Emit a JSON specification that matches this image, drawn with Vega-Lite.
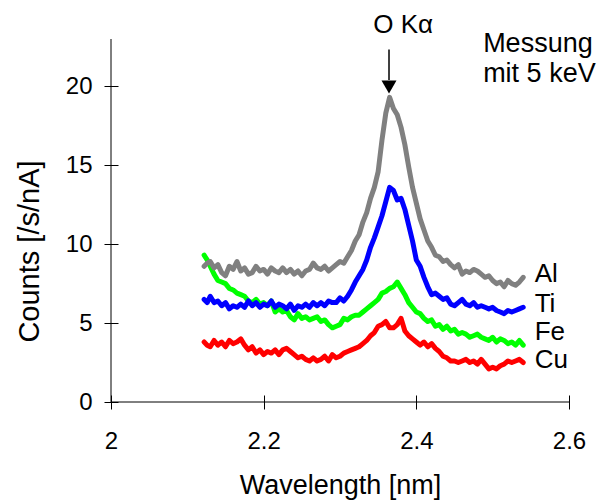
{
  "$schema": "https://vega.github.io/schema/vega-lite/v6.json",
  "width": 458,
  "height": 363,
  "autosize": {"type": "none"},
  "padding": {"left": 111, "top": 39, "right": 38, "bottom": 102},
  "background": "white",
  "config": {
    "view": {"stroke": null},
    "font": "Liberation Sans",
    "axis": {
      "grid": false,
      "domain": false,
      "tickColor": "black",
      "tickWidth": 1,
      "labelColor": "black",
      "titleColor": "black",
      "labelFont": "Liberation Sans",
      "titleFont": "Liberation Sans",
      "titleFontWeight": "normal"
    }
  },
  "datasets": {
    "spec": [
      {"w": 2.122, "Al": 8.6, "Ti": 6.5, "Fe": 9.3, "Cu": 3.8},
      {"w": 2.126, "Al": 8.8, "Ti": 6.3, "Fe": 9.0, "Cu": 3.6},
      {"w": 2.130, "Al": 8.9, "Ti": 6.7, "Fe": 8.6, "Cu": 3.5},
      {"w": 2.135, "Al": 8.5, "Ti": 6.3, "Fe": 8.1, "Cu": 3.9},
      {"w": 2.140, "Al": 8.7, "Ti": 6.4, "Fe": 7.7, "Cu": 3.6},
      {"w": 2.145, "Al": 8.2, "Ti": 6.1, "Fe": 7.6, "Cu": 3.8},
      {"w": 2.150, "Al": 8.0, "Ti": 6.3, "Fe": 7.5, "Cu": 3.5},
      {"w": 2.155, "Al": 8.6, "Ti": 5.9, "Fe": 7.2, "Cu": 3.9},
      {"w": 2.160, "Al": 8.4, "Ti": 6.1, "Fe": 7.1, "Cu": 3.7},
      {"w": 2.165, "Al": 8.9, "Ti": 6.0, "Fe": 6.9, "Cu": 3.8},
      {"w": 2.170, "Al": 8.3, "Ti": 6.2, "Fe": 6.8, "Cu": 4.0},
      {"w": 2.175, "Al": 8.5, "Ti": 6.0, "Fe": 6.7, "Cu": 3.6},
      {"w": 2.180, "Al": 8.1, "Ti": 6.4, "Fe": 6.4, "Cu": 3.3},
      {"w": 2.185, "Al": 8.2, "Ti": 6.1, "Fe": 6.3, "Cu": 3.5},
      {"w": 2.190, "Al": 8.6, "Ti": 6.3, "Fe": 6.5, "Cu": 3.1},
      {"w": 2.195, "Al": 8.3, "Ti": 6.0, "Fe": 6.2, "Cu": 3.3},
      {"w": 2.200, "Al": 8.4, "Ti": 6.2, "Fe": 6.3, "Cu": 3.0},
      {"w": 2.205, "Al": 8.1, "Ti": 6.1, "Fe": 6.1, "Cu": 3.2},
      {"w": 2.210, "Al": 8.5, "Ti": 6.4, "Fe": 6.4, "Cu": 3.1},
      {"w": 2.215, "Al": 8.3, "Ti": 6.0, "Fe": 5.7, "Cu": 3.3},
      {"w": 2.220, "Al": 8.2, "Ti": 6.2, "Fe": 5.9, "Cu": 3.0},
      {"w": 2.225, "Al": 8.5, "Ti": 6.1, "Fe": 5.7, "Cu": 3.3},
      {"w": 2.230, "Al": 8.2, "Ti": 5.9, "Fe": 5.8, "Cu": 3.4},
      {"w": 2.235, "Al": 8.4, "Ti": 6.2, "Fe": 5.4, "Cu": 3.2},
      {"w": 2.240, "Al": 8.1, "Ti": 5.8, "Fe": 5.2, "Cu": 3.0},
      {"w": 2.245, "Al": 8.3, "Ti": 6.1, "Fe": 5.6, "Cu": 2.8},
      {"w": 2.250, "Al": 8.0, "Ti": 6.0, "Fe": 5.3, "Cu": 2.9},
      {"w": 2.255, "Al": 8.3, "Ti": 6.2, "Fe": 5.4, "Cu": 2.7},
      {"w": 2.260, "Al": 8.4, "Ti": 6.0, "Fe": 5.2, "Cu": 2.6},
      {"w": 2.265, "Al": 8.8, "Ti": 6.3, "Fe": 5.3, "Cu": 2.8},
      {"w": 2.270, "Al": 8.5, "Ti": 6.1, "Fe": 5.4, "Cu": 2.6},
      {"w": 2.275, "Al": 8.4, "Ti": 6.3, "Fe": 5.1, "Cu": 2.7},
      {"w": 2.280, "Al": 8.6, "Ti": 6.1, "Fe": 5.2, "Cu": 2.9},
      {"w": 2.285, "Al": 8.3, "Ti": 6.4, "Fe": 4.9, "Cu": 2.6},
      {"w": 2.290, "Al": 8.5, "Ti": 6.3, "Fe": 4.7, "Cu": 3.0},
      {"w": 2.295, "Al": 8.7, "Ti": 6.3, "Fe": 4.8, "Cu": 2.8},
      {"w": 2.300, "Al": 8.9, "Ti": 6.6, "Fe": 4.9, "Cu": 2.9},
      {"w": 2.305, "Al": 8.8, "Ti": 6.4, "Fe": 5.3, "Cu": 3.1},
      {"w": 2.310, "Al": 9.2, "Ti": 6.7, "Fe": 5.2, "Cu": 3.2},
      {"w": 2.315, "Al": 9.6, "Ti": 7.1, "Fe": 5.4, "Cu": 3.3},
      {"w": 2.320, "Al": 10.2, "Ti": 7.6, "Fe": 5.5, "Cu": 3.4},
      {"w": 2.325, "Al": 10.6, "Ti": 8.0, "Fe": 5.5, "Cu": 3.5},
      {"w": 2.330, "Al": 11.4, "Ti": 8.4, "Fe": 5.7, "Cu": 3.7},
      {"w": 2.335, "Al": 12.0, "Ti": 9.0, "Fe": 5.9, "Cu": 3.9},
      {"w": 2.340, "Al": 12.9, "Ti": 9.8, "Fe": 6.1, "Cu": 4.2},
      {"w": 2.345, "Al": 13.6, "Ti": 10.4, "Fe": 6.3, "Cu": 4.4},
      {"w": 2.350, "Al": 14.6, "Ti": 11.1, "Fe": 6.5, "Cu": 4.8},
      {"w": 2.355, "Al": 16.6, "Ti": 11.8, "Fe": 6.9, "Cu": 4.9},
      {"w": 2.360, "Al": 18.3, "Ti": 12.7, "Fe": 7.0, "Cu": 5.1},
      {"w": 2.365, "Al": 19.3, "Ti": 13.6, "Fe": 7.2, "Cu": 4.7},
      {"w": 2.370, "Al": 18.6, "Ti": 13.4, "Fe": 7.3, "Cu": 4.7},
      {"w": 2.375, "Al": 18.2, "Ti": 12.8, "Fe": 7.6, "Cu": 4.9},
      {"w": 2.380, "Al": 17.4, "Ti": 12.9, "Fe": 7.2, "Cu": 5.3},
      {"w": 2.385, "Al": 16.3, "Ti": 12.2, "Fe": 6.8, "Cu": 4.5},
      {"w": 2.390, "Al": 14.9, "Ti": 11.2, "Fe": 6.3, "Cu": 4.2},
      {"w": 2.395, "Al": 13.6, "Ti": 10.2, "Fe": 6.0, "Cu": 4.0},
      {"w": 2.400, "Al": 12.6, "Ti": 9.0, "Fe": 5.7, "Cu": 3.8},
      {"w": 2.405, "Al": 11.6, "Ti": 8.6, "Fe": 5.6, "Cu": 3.6},
      {"w": 2.410, "Al": 10.9, "Ti": 7.9, "Fe": 5.3, "Cu": 3.8},
      {"w": 2.415, "Al": 10.2, "Ti": 7.3, "Fe": 5.1, "Cu": 3.5},
      {"w": 2.420, "Al": 9.8, "Ti": 6.8, "Fe": 5.2, "Cu": 3.7},
      {"w": 2.425, "Al": 9.3, "Ti": 6.9, "Fe": 4.8, "Cu": 3.4},
      {"w": 2.430, "Al": 9.2, "Ti": 6.7, "Fe": 4.9, "Cu": 3.2},
      {"w": 2.435, "Al": 8.9, "Ti": 6.5, "Fe": 4.6, "Cu": 2.9},
      {"w": 2.440, "Al": 9.0, "Ti": 6.6, "Fe": 4.8, "Cu": 2.8},
      {"w": 2.445, "Al": 8.7, "Ti": 6.2, "Fe": 4.5, "Cu": 2.6},
      {"w": 2.450, "Al": 8.5, "Ti": 6.1, "Fe": 4.6, "Cu": 2.6},
      {"w": 2.455, "Al": 8.7, "Ti": 6.3, "Fe": 4.3, "Cu": 2.5},
      {"w": 2.460, "Al": 8.1, "Ti": 6.5, "Fe": 4.4, "Cu": 2.6},
      {"w": 2.465, "Al": 8.3, "Ti": 6.2, "Fe": 4.3, "Cu": 2.7},
      {"w": 2.470, "Al": 8.2, "Ti": 6.1, "Fe": 4.1, "Cu": 2.5},
      {"w": 2.475, "Al": 8.4, "Ti": 6.3, "Fe": 4.2, "Cu": 2.6},
      {"w": 2.480, "Al": 8.3, "Ti": 6.0, "Fe": 4.3, "Cu": 2.4},
      {"w": 2.485, "Al": 8.1, "Ti": 6.1, "Fe": 4.1, "Cu": 2.7},
      {"w": 2.490, "Al": 7.9, "Ti": 6.0, "Fe": 4.0, "Cu": 2.4},
      {"w": 2.495, "Al": 8.0, "Ti": 5.9, "Fe": 3.9, "Cu": 2.1},
      {"w": 2.500, "Al": 7.7, "Ti": 6.0, "Fe": 4.1, "Cu": 2.2},
      {"w": 2.505, "Al": 7.5, "Ti": 5.8, "Fe": 3.8, "Cu": 2.1},
      {"w": 2.510, "Al": 7.6, "Ti": 5.7, "Fe": 4.0, "Cu": 2.3},
      {"w": 2.515, "Al": 7.3, "Ti": 5.6, "Fe": 3.9, "Cu": 2.4},
      {"w": 2.520, "Al": 7.7, "Ti": 5.8, "Fe": 3.7, "Cu": 2.6},
      {"w": 2.525, "Al": 7.5, "Ti": 5.7, "Fe": 3.8, "Cu": 2.5},
      {"w": 2.530, "Al": 7.4, "Ti": 5.8, "Fe": 3.6, "Cu": 2.6},
      {"w": 2.535, "Al": 7.6, "Ti": 5.9, "Fe": 3.9, "Cu": 2.7},
      {"w": 2.540, "Al": 7.9, "Ti": 6.0, "Fe": 3.6, "Cu": 2.5}
    ],
    "labels": [
      {"t": "Al", "x": 2.555, "y": 7.62},
      {"t": "Ti", "x": 2.555, "y": 5.72},
      {"t": "Fe", "x": 2.555, "y": 3.9},
      {"t": "Cu", "x": 2.555, "y": 2.17}
    ],
    "arrow": [
      {"x": 2.3642, "y1": 22.33, "y2": 20.4, "tip": 19.96, "t": "O Kα", "tx": 2.3436, "ty": 23.4}
    ],
    "note": [
      {"t": "Messung\nmit 5 keV", "x": 2.4875, "y": 22.2}
    ],
    "frame": [
      {"x0": 2, "x1": 2.6, "y0": 0, "y1": 23}
    ]
  },
  "layer": [
    {
      "data": {"name": "spec"},
      "transform": [{"fold": ["Fe", "Al", "Ti", "Cu"], "as": ["series", "value"]}],
      "mark": {"type": "line", "strokeWidth": 5, "strokeJoin": "round", "strokeCap": "round", "clip": false},
      "encoding": {
        "x": {
          "field": "w", "type": "quantitative",
          "scale": {"domain": [2, 2.6], "nice": false, "zero": false},
          "axis": {
            "orient": "bottom",
            "offset": -7,
            "values": [2, 2.2, 2.4, 2.6],
            "format": "~g",
            "tickSize": 14,
            "labelFontSize": 24,
            "labelBaseline": "alphabetic",
            "labelPadding": 39,
            "labelFlush": false,
            "labelOverlap": false,
            "title": "Wavelength [nm]",
            "titleFontSize": 27,
            "titleX": 229,
            "titleY": 98,
            "titleAlign": "center",
            "titleBaseline": "alphabetic"
          }
        },
        "y": {
          "field": "value", "type": "quantitative",
          "scale": {"domain": [0, 23], "nice": false, "zero": true},
          "axis": {
            "orient": "left",
            "offset": -7,
            "values": [0, 5, 10, 15, 20],
            "tickSize": 14,
            "labelFontSize": 24,
            "labelBaseline": "middle",
            "labelPadding": 12,
            "labelFlush": false,
            "labelOverlap": false,
            "title": "Counts [/s/nA]",
            "titleFontSize": 29,
            "titleAngle": -90,
            "titleX": -80,
            "titleY": 212,
            "titleAlign": "center",
            "titleBaseline": "alphabetic"
          }
        },
        "color": {
          "field": "series", "type": "nominal",
          "scale": {"domain": ["Al", "Ti", "Fe", "Cu"], "range": ["#808080", "#0000ff", "#00ff00", "#ff0000"]},
          "legend": null
        },
        "detail": {"field": "series"}
      }
    },
    {
      "data": {"name": "frame"},
      "mark": {"type": "rule", "color": "black", "strokeWidth": 1},
      "encoding": {
        "x": {"field": "x0", "type": "quantitative"},
        "x2": {"field": "x1"},
        "y": {"field": "y0", "type": "quantitative"}
      }
    },
    {
      "data": {"name": "frame"},
      "mark": {"type": "rule", "color": "black", "strokeWidth": 1},
      "encoding": {
        "x": {"field": "x0", "type": "quantitative"},
        "y": {"field": "y0", "type": "quantitative"},
        "y2": {"field": "y1"}
      }
    },
    {
      "data": {"name": "arrow"},
      "mark": {"type": "rule", "color": "black", "strokeWidth": 1.5},
      "encoding": {
        "x": {"field": "x", "type": "quantitative"},
        "y": {"field": "y1", "type": "quantitative"},
        "y2": {"field": "y2"}
      }
    },
    {
      "data": {"name": "arrow"},
      "mark": {"type": "point", "shape": "triangle-down", "filled": true, "color": "black", "size": 225, "opacity": 1, "clip": false},
      "encoding": {
        "x": {"field": "x", "type": "quantitative"},
        "y": {"field": "tip", "type": "quantitative"}
      }
    },
    {
      "data": {"name": "arrow"},
      "mark": {"type": "text", "fontSize": 26, "align": "left", "baseline": "alphabetic", "color": "black", "font": "Liberation Sans"},
      "encoding": {
        "x": {"field": "tx", "type": "quantitative"},
        "y": {"field": "ty", "type": "quantitative"},
        "text": {"field": "t"}
      }
    },
    {
      "data": {"name": "note"},
      "mark": {"type": "text", "fontSize": 27, "align": "left", "baseline": "alphabetic", "lineBreak": "\n", "lineHeight": 30, "color": "black", "font": "Liberation Sans"},
      "encoding": {
        "x": {"field": "x", "type": "quantitative"},
        "y": {"field": "y", "type": "quantitative"},
        "text": {"field": "t"}
      }
    },
    {
      "data": {"name": "labels"},
      "mark": {"type": "text", "fontSize": 26, "align": "left", "baseline": "alphabetic", "color": "black", "font": "Liberation Sans"},
      "encoding": {
        "x": {"field": "x", "type": "quantitative"},
        "y": {"field": "y", "type": "quantitative"},
        "text": {"field": "t"}
      }
    }
  ]
}
